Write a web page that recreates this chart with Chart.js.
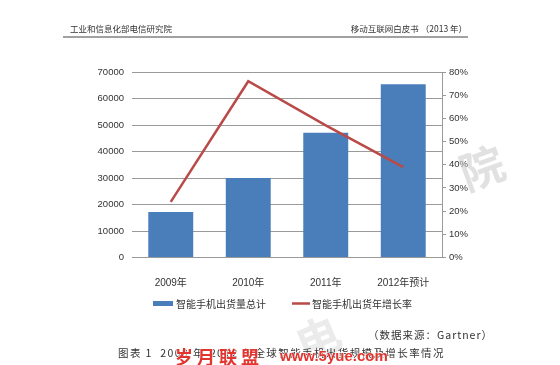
<!DOCTYPE html>
<html>
<head>
<meta charset="utf-8">
<script src="https://cdn.jsdelivr.net/npm/chart.js@4"></script>
<style>
	html, body {margin: 0; padding: 0; background: #fff;}
	canvas {display: block;}
</style>
</head>
<body>
<canvas id="myChart" width="560" height="365"></canvas>
<script>
'use strict';

const categories = ['2009年', '2010年', '2011年', '2012年预计'];
const shipments = [17200, 30000, 47100, 65400];
const growthRate = [24, 76, 57, 39];
const seriesNames = ['智能手机出货量总计', '智能手机出货年增长率'];

const headerLeft = '工业和信息化部电信研究院';
const headerRight = '移动互联网白皮书 （2013 年）';
const sourceText = '（数据来源：Gartner）';
const captionText = '图表 1  2009 年-2012 年全球智能手机出货规模及增长率情况';

const BLUE = '#4a7ebb';
const RED = '#b94a48';
const GRID = '#9a9a9a';
const TEXT = '#333';
const CJK = '"Noto Sans CJK SC", sans-serif';

// texts around the chart: header, legend, source, caption, watermarks
const pagePlugin = {
	id: 'page',
	afterDraw(chart) {
		const c = chart.ctx;
		c.save();
		c.fillStyle = '#333';
		c.textBaseline = 'middle';
		c.font = '8.5px ' + CJK;
		c.textAlign = 'left';
		c.fillText(headerLeft, 70, 29);
		c.textAlign = 'right';
		c.fillText(headerRight, 467, 29);
		c.strokeStyle = '#444';
		c.lineWidth = 1.2;
		c.beginPath();
		c.moveTo(63, 37);
		c.lineTo(468, 37);
		c.stroke();

		// legend
		const bars = chart.data.datasets.find(d => d.type !== 'line');
		const line = chart.data.datasets.find(d => d.type === 'line');
		c.font = '10px ' + CJK;
		c.textAlign = 'left';
		c.fillStyle = bars.backgroundColor;
		c.fillRect(153, 301, 20, 5);
		c.fillStyle = '#333';
		c.fillText(bars.label, 176, 304);
		c.strokeStyle = line.borderColor;
		c.lineWidth = 2.5;
		c.beginPath();
		c.moveTo(292, 303.5);
		c.lineTo(310, 303.5);
		c.stroke();
		c.fillText(line.label, 312, 304);

		// faint logo watermarks
		c.fillStyle = 'rgba(200,200,200,0.55)';
		c.font = 'bold 44px ' + CJK;
		c.textAlign = 'center';
		c.translate(482, 168);
		c.rotate(-0.35);
		c.fillText('院', 0, 0);
		c.setTransform(1, 0, 0, 1, 0, 0);
		c.fillStyle = 'rgba(205,205,205,0.4)';
		c.translate(318, 338);
		c.rotate(-0.4);
		c.fillText('电', 0, 0);
		c.setTransform(1, 0, 0, 1, 0, 0);

		// source + caption
		c.fillStyle = '#333';
		c.font = '10.5px ' + CJK;
		c.letterSpacing = '1px';
		c.textAlign = 'right';
		c.fillText(sourceText, 493, 335);
		c.letterSpacing = '1.4px';
		c.textAlign = 'left';
		c.fillText(captionText, 118, 353);
		c.letterSpacing = '0px';

		// red site watermark
		c.fillStyle = '#e2352f';
		c.strokeStyle = '#fff';
		c.lineWidth = 1;
		c.font = 'bold 18px ' + CJK;
		['岁', '月', '联', '盟'].forEach((ch, i) => {
			c.strokeText(ch, 175 + i * 22, 357);
			c.fillText(ch, 175 + i * 22, 357);
		});
		c.font = 'bold 15px "Liberation Sans", sans-serif';
		c.strokeText('www.5yue.com', 280, 357);
		c.fillText('www.5yue.com', 280, 357);
		c.restore();
	},
};

const setUpChart = () => {
	const ctx = document.getElementById('myChart').getContext('2d');
	return new Chart(ctx, {
		type: 'bar',
		data: {
			labels: categories,
			datasets: [
				{
					type: 'line',
					label: seriesNames[1],
					data: growthRate,
					yAxisID: 'y1',
					borderColor: RED,
					backgroundColor: RED,
					borderWidth: 2.5,
					pointRadius: 0,
					tension: 0,
					order: 0,
				},
				{
					type: 'bar',
					label: seriesNames[0],
					data: shipments,
					yAxisID: 'y',
					backgroundColor: BLUE,
					barPercentage: 0.58,
					categoryPercentage: 1,
					order: 1,
				},
			],
		},
		options: {
			responsive: false,
			animation: false,
			layout: {padding: {top: 72, left: 0, right: 0, bottom: 0}},
			plugins: {
				legend: {display: false},
				tooltip: {enabled: false},
			},
			scales: {
				x: {
					grid: {display: false},
					border: {display: false},
					ticks: {
						color: TEXT,
						font: {family: '"Liberation Sans", ' + CJK, size: 10},
						padding: 12,
						maxRotation: 0,
					},
					afterFit: s => { s.height = 107.5; },
				},
				y: {
					position: 'left',
					min: 0,
					max: 70000,
					grid: {color: GRID, lineWidth: 1, drawTicks: false},
					border: {display: false},
					ticks: {
						stepSize: 10000,
						color: TEXT,
						font: {family: '"Liberation Sans", sans-serif', size: 9.5},
						padding: 8,
						callback: v => v,
					},
					afterFit: s => { s.width = 132; },
				},
				y1: {
					position: 'right',
					min: 0,
					max: 80,
					grid: {drawOnChartArea: false, color: GRID, tickLength: 4},
					border: {display: true, color: GRID},
					ticks: {
						stepSize: 10,
						color: TEXT,
						font: {family: '"Liberation Sans", sans-serif', size: 9.5},
						padding: 3,
						callback: v => v + '%',
					},
					afterFit: s => { s.width = 118; },
				},
			},
		},
		plugins: [pagePlugin],
	});
};

setUpChart();
</script>
</body>
</html>
